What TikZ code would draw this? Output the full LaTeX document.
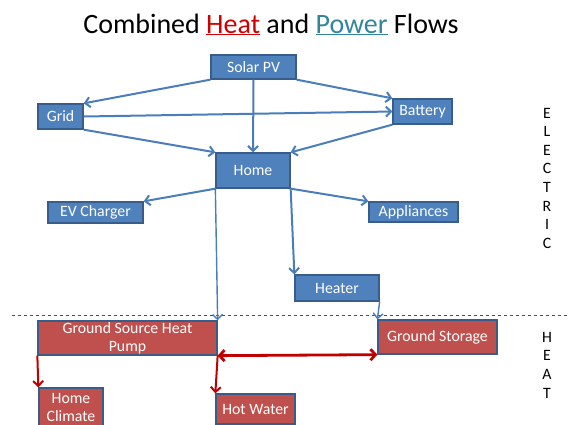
\documentclass[tikz,border=0pt]{standalone}
\usepackage{fontspec}
\setmainfont{Carlito}
\usepackage{xcolor}
\usetikzlibrary{arrows.meta}

\definecolor{elecfill}{HTML}{4F81BD}
\definecolor{elecline}{HTML}{385D8A}
\definecolor{elecarrow}{HTML}{4A7EBB}
\definecolor{heatfill}{HTML}{C0504D}
\definecolor{heatarrow}{HTML}{C00000}
\definecolor{titlered}{HTML}{D00000}
\definecolor{titleteal}{HTML}{31859C}

\begin{document}
\begin{tikzpicture}[x=1pt, y=-1pt,
        every node/.style={font=\fontsize{15.8}{19}\selectfont, inner sep=0pt},
        blockE/.style={draw=elecline, fill=elecfill, text=white, line width=1.3pt},
        blockH/.style={draw=elecline, fill=heatfill, text=white, line width=1.3pt},
        flowE/.style={draw=elecarrow, line width=2pt, -{Straight Barb[length=5pt,width=10pt]}},
        flowH/.style={draw=heatarrow, line width=2pt, -{Straight Barb[length=5pt,width=10pt]}}]
        \clip (0,0) rectangle (569,424);
        \fill[white] (0,0) rectangle (569,424);

        \node[anchor=base, font=\fontsize{28}{32}\selectfont] (title) at (271,33)
            {Combined {\color{titlered}\underline{Heat}} and {\color{titleteal}\underline{Power}} Flows};

        % electric side
        \node[blockE, minimum width=85, minimum height=24] (solar) at (253.5,67) {Solar PV};
        \node[blockE, minimum width=45, minimum height=25] (grid) at (60.5,116.5) {Grid};
        \node[blockE, minimum width=59, minimum height=25] (battery) at (422.5,111.5) {Battery};
        \node[blockE, minimum width=74, minimum height=35] (home) at (253,170.5) {Home};
        \node[blockE, minimum width=95, minimum height=21] (ev) at (95.5,212.5) {EV Charger};
        \node[blockE, minimum width=89, minimum height=20] (appl) at (413.5,212) {Appliances};
        \node[blockE, minimum width=84, minimum height=26] (heater) at (337,288) {Heater};

        % heat side
        \node[blockH, minimum width=179, minimum height=34, align=center] (gshp) at (127.5,338)
            {Ground Source Heat\\[-1pt]Pump};
        \node[blockH, minimum width=119, minimum height=34] (gstore) at (437.5,337) {Ground Storage};
        \node[blockH, minimum width=64, minimum height=38, align=center] (climate) at (71,407)
            {Home\\[-1pt]Climate};
        \node[blockH, minimum width=79, minimum height=30] (water) at (255.5,409) {Hot Water};

        \coordinate (sepL) at (12,315);
        \coordinate (sepR) at (569,315);
        \draw[black!70, dashed, line width=0.9pt] (sepL) -- (sepR);

        \draw[flowE] (solar.south west) -- (grid.north east);
        \draw[flowE] (solar.south) -- (home.north);
        \draw[flowE] (solar.south east) -- (battery.north west);
        \draw[flowE] (grid.east) -- (battery.west);
        \draw[flowE] (grid.south east) -- (home.north west);
        \draw[flowE] (battery.south west) -- (home.north east);
        \draw[flowE] (home.south west) -- (ev.north east);
        \draw[flowE] (home.south east) -- (appl.north west);
        \draw[flowE] (home.south east) -- (heater.north west);
        \draw[flowE, line width=1.4pt] (home.south west) -- (gshp.north east);
        \draw[flowE, line width=1.4pt] (heater.south east) -- (gstore.north west);

        \draw[flowH] (gshp.south west) -- (climate.north west);
        \draw[flowH] (gshp.south east) -- (water.north west);
        \draw[flowH, line width=2.8pt, {Straight Barb[length=5pt,width=11pt]}-{Straight Barb[length=5pt,width=11pt]}]
            (gshp.south east) -- (gstore.south west);

        % side labels
        \foreach \ch [count=\i] in {E,L,E,C,T,R,I,C}
            \node (elec\i) at (547,113+18.6*\i-18.6) {\ch};
        \foreach \ch [count=\i] in {H,E,A,T}
            \node (heat\i) at (547,337+18.7*\i-18.7) {\ch};
    \end{tikzpicture}
\end{document}
